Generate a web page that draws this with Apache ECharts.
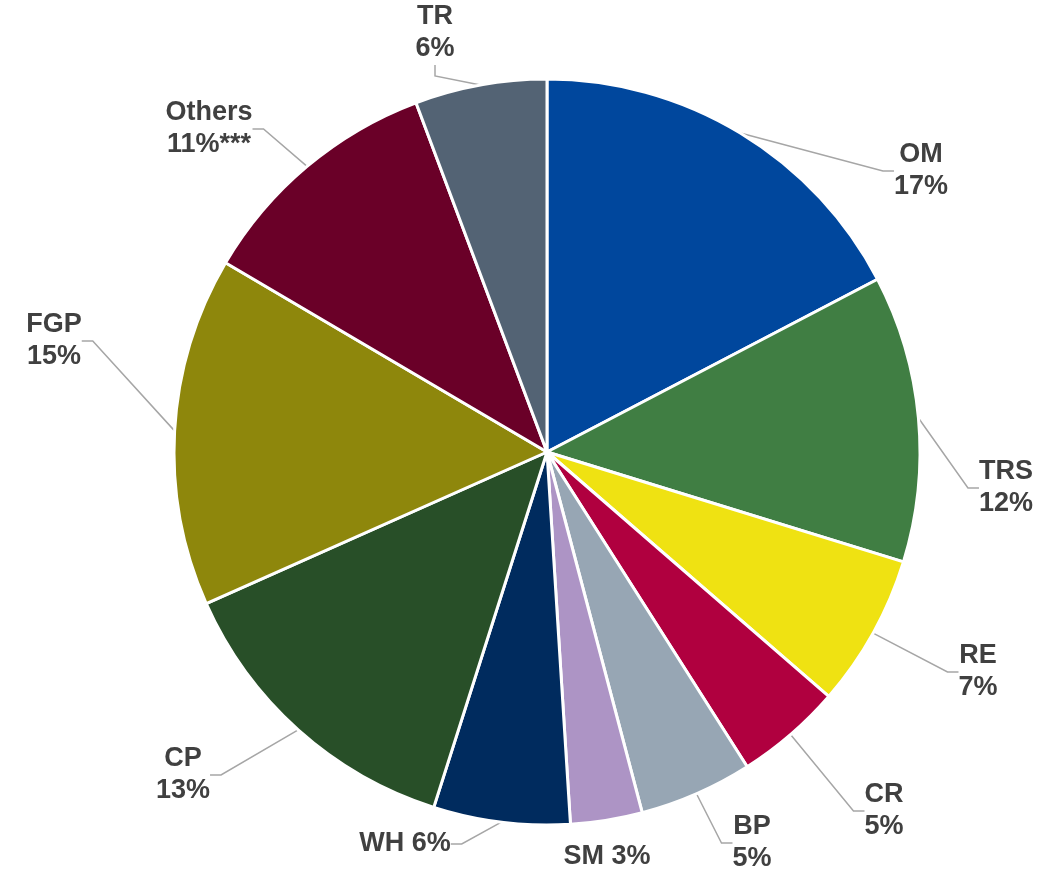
<!DOCTYPE html>
<html>
<head>
<meta charset="utf-8">
<script src="https://cdn.jsdelivr.net/npm/echarts@6/dist/echarts.min.js"></script>
<style>
  html, body { margin: 0; padding: 0; background: #fff; }
  #chart { width: 1058px; height: 875px; }
</style>
</head>
<body>
<div id="chart"></div>
<script>
// slices, clockwise from 12 o'clock
const names = ['OM', 'TRS', 'RE', 'CR', 'BP', 'SM', 'WH', 'CP', 'FGP', 'Others', 'TR'];
const values = [17.3, 12.4, 6.6, 4.6, 4.9, 3.1, 5.9, 13.4, 15.1, 10.8, 5.7];
const suffixes = ['', '', '', '', '', '', '', '', '', '***', ''];
const oneLine = ['SM', 'WH'];

const colors = ['#00479D', '#407E43', '#EFE212', '#B0003F', '#97A6B4', '#AD94C5',
  '#002B5E', '#284F28', '#8E870C', '#6A0028', '#536374'];

// label block centres (layout only)
const labelPos = [[921, 171], [1006, 488], [978, 672], [884, 811], [752, 843], [607, 857],
  [405, 844], [183, 775], [54, 341], [209, 129], [435, 33]];

const chart = echarts.init(document.getElementById('chart'));

const data = names.map((n, i) => {
  const item = { name: n, value: values[i], itemStyle: { color: colors[i] } };
  if (n === 'SM') item.labelLine = { show: false };
  return item;
});

chart.setOption({
  animation: false,
  series: [{
    type: 'pie',
    center: [547, 452],
    radius: 373,
    startAngle: 90,
    clockwise: true,
    avoidLabelOverlap: false,
    data: data,
    itemStyle: { borderColor: '#fff', borderWidth: 3 },
    label: {
      show: true,
      color: '#404040',
      fontFamily: 'Arial, "Liberation Sans", sans-serif',
      fontWeight: 'bold',
      fontSize: 27,
      lineHeight: 32,
      formatter: p => {
        const pct = Math.round(p.percent) + '%' + suffixes[p.dataIndex];
        return oneLine.includes(p.name) ? p.name + ' ' + pct : p.name + '\n' + pct;
      }
    },
    labelLine: {
      show: true,
      length: 20,
      length2: 11,
      minTurnAngle: 0,
      lineStyle: { color: '#A6A6A6', width: 1.5 }
    },
    labelLayout: params => {
      const pos = labelPos[params.dataIndex];
      return { x: pos[0], y: pos[1], align: 'center', verticalAlign: 'middle' };
    }
  }]
});
</script>
</body>
</html>
